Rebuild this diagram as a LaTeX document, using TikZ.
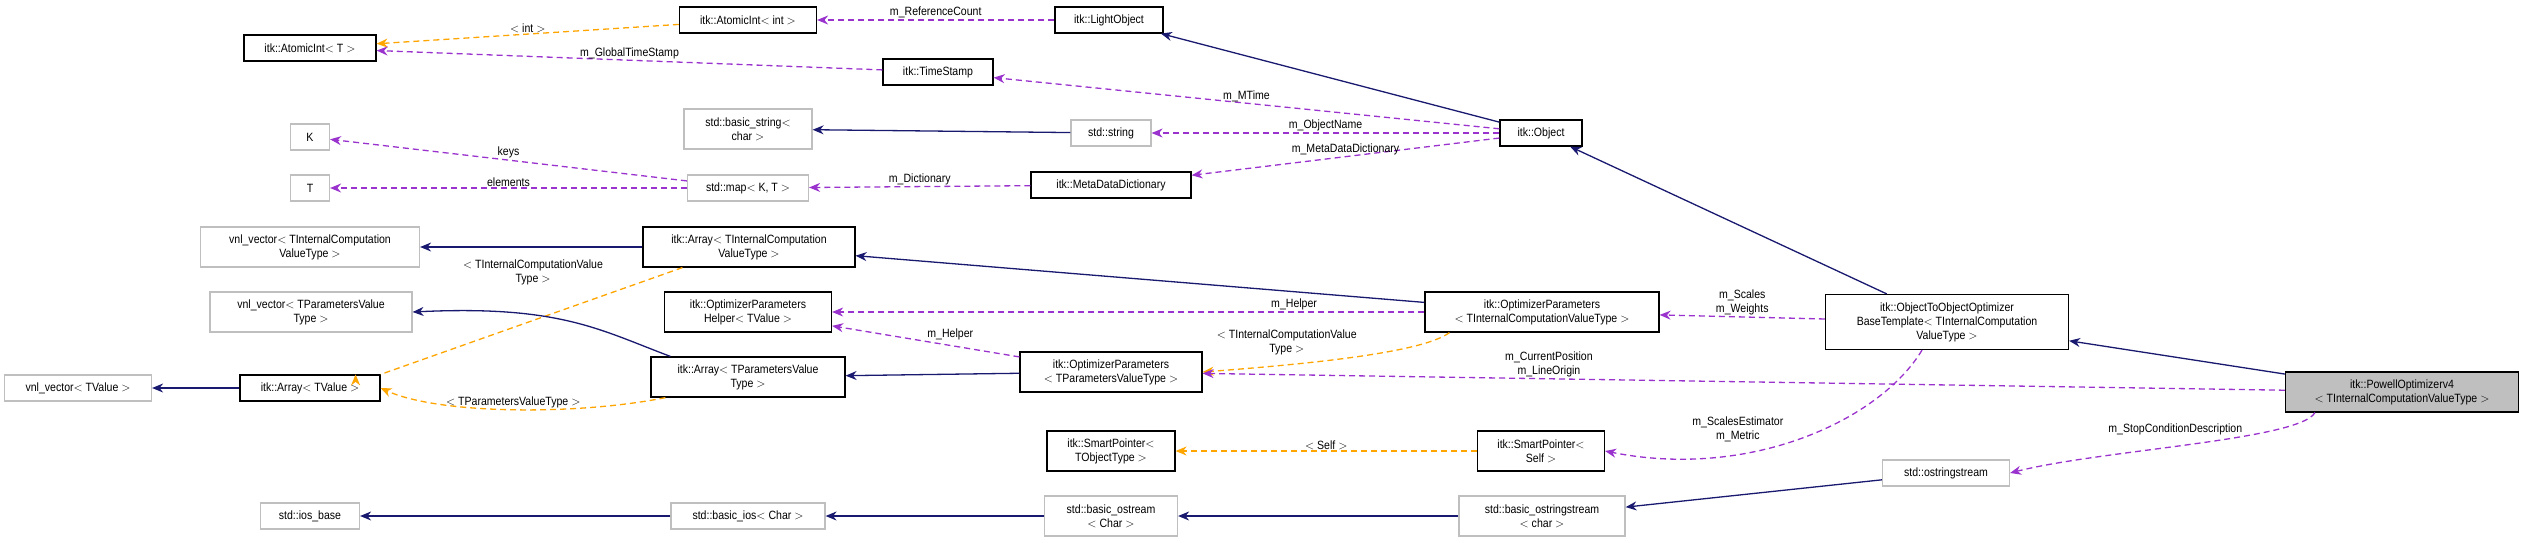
\documentclass[tikz,border=0pt]{standalone}
\usepackage{fontspec}
\setmainfont[FakeStretch=0.88]{Liberation Sans}
\usetikzlibrary{arrows.meta}
\definecolor{inhblue}{HTML}{191970}
\definecolor{usepurple}{HTML}{9A32CD}
\definecolor{tmplorange}{HTML}{FFA500}
\begin{document}
\begin{tikzpicture}[x=1pt,y=-1pt,
    font=\fontsize{12}{14}\selectfont,
    cls/.style={draw=black,line width=1.2pt,fill=white,align=center,inner sep=2pt,minimum height=26pt},
    ext/.style={draw=black!25,line width=1.2pt,fill=white,align=center,inner sep=2pt,minimum height=26pt},
    inh/.style={draw=inhblue,line width=1.3pt,-{Stealth[length=11pt,width=9pt]}},
    use/.style={draw=usepurple,line width=1.3pt,dash pattern=on 6pt off 4pt,-{Stealth[length=11pt,width=9pt]}},
    tpl/.style={draw=tmplorange,line width=1.3pt,dash pattern=on 6pt off 4pt,-{Stealth[length=11pt,width=9pt]}},
    lbl/.style={align=center,inner sep=1pt}]
    \useasboundingbox (0,0) rectangle (2525,542);

    % left column
    \node[cls,minimum width=132pt] (atomicT) at (310,48) {itk::AtomicInt$<$ T $>$};
    \node[ext,minimum width=39pt] (K) at (310,137) {K};
    \node[ext,minimum width=39pt] (T) at (310,188) {T};
    \node[ext,minimum width=219pt,minimum height=40pt] (vnlInt) at (310,247) {vnl\_vector$<$ TInternalComputation\\ValueType $>$};
    \node[ext,minimum width=202pt,minimum height=40pt] (vnlPar) at (311,312) {vnl\_vector$<$ TParametersValue\\Type $>$};
    \node[cls,minimum width=140pt] (arrT) at (310,388) {itk::Array$<$ TValue $>$};
    \node[ext,minimum width=147pt] (vnlT) at (78,388) {vnl\_vector$<$ TValue $>$};
    \node[ext,minimum width=99pt] (iosbase) at (310,516) {std::ios\_base};

    % second column
    \node[cls,minimum width=137pt] (atomicInt) at (748,20) {itk::AtomicInt$<$ int $>$};
    \node[cls,minimum width=110pt] (stamp) at (938,72) {itk::TimeStamp};
    \node[ext,minimum width=128pt,minimum height=40pt] (bstring) at (748,129) {std::basic\_string$<$\\char $>$};
    \node[ext,minimum width=121pt] (map) at (748,188) {std::map$<$ K, T $>$};
    \node[cls,minimum width=212pt,minimum height=40pt] (arrInt) at (749,247) {itk::Array$<$ TInternalComputation\\ValueType $>$};
    \node[cls,minimum width=167pt,minimum height=40pt] (helper) at (748,312) {itk::OptimizerParameters\\Helper$<$ TValue $>$};
    \node[cls,minimum width=194pt,minimum height=40pt] (arrPar) at (748,377) {itk::Array$<$ TParametersValue\\Type $>$};
    \node[ext,minimum width=154pt] (basicios) at (748,516) {std::basic\_ios$<$ Char $>$};

    % third column
    \node[cls,minimum width=108pt] (light) at (1109,20) {itk::LightObject};
    \node[ext,minimum width=80pt] (string) at (1111,133) {std::string};
    \node[cls,minimum width=160pt] (mdd) at (1111,185) {itk::MetaDataDictionary};
    \node[cls,minimum width=182pt,minimum height=40pt] (optPar) at (1111,372) {itk::OptimizerParameters\\$<$ TParametersValueType $>$};
    \node[cls,minimum width=128pt,minimum height=40pt] (spObj) at (1111,451) {itk::SmartPointer$<$\\TObjectType $>$};
    \node[ext,minimum width=133pt,minimum height=40pt] (bostream) at (1111,516) {std::basic\_ostream\\$<$ Char $>$};

    % fourth column
    \node[cls,minimum width=82pt] (object) at (1541,133) {itk::Object};
    \node[cls,minimum width=234pt,minimum height=40pt] (optInt) at (1542,312) {itk::OptimizerParameters\\$<$ TInternalComputationValueType $>$};
    \node[cls,minimum width=127pt,minimum height=40pt] (spSelf) at (1541,451) {itk::SmartPointer$<$\\Self $>$};
    \node[ext,minimum width=166pt,minimum height=40pt] (bostrstream) at (1542,516) {std::basic\_ostringstream\\$<$ char $>$};

    % right
    \node[cls,minimum width=243pt,minimum height=55pt] (o2o) at (1947,322) {itk::ObjectToObjectOptimizer\\BaseTemplate$<$ TInternalComputation\\ValueType $>$};
    \node[ext,minimum width=127pt] (ostrstream) at (1946,473) {std::ostringstream};
    \node[cls,fill=black!25,minimum width=233pt,minimum height=40pt] (powell) at (2402,392) {itk::PowellOptimizerv4\\$<$ TInternalComputationValueType $>$};

    \draw[tpl] (atomicInt) -- (atomicT) node[lbl,pos=0.5,above] {$<$ int $>$};
    \draw[use] (stamp) -- (atomicT) node[lbl,pos=0.5,above] {m\_GlobalTimeStamp};
    \draw[use] (light) -- (atomicInt) node[lbl,pos=0.5,above] {m\_ReferenceCount};
    \draw[inh] (object) -- (light);
    \draw[use] (object) -- (stamp) node[lbl,pos=0.5,above] {m\_MTime};
    \draw[inh] (string) -- (bstring);
    \draw[use] (object) -- (string) node[lbl,pos=0.5,above] {m\_ObjectName};
    \draw[use] (object) -- (mdd) node[lbl,pos=0.5,above] {m\_MetaDataDictionary};
    \draw[use] (map) -- (K) node[lbl,pos=0.5,above] {keys};
    \draw[use] (map) -- (T) node[lbl,pos=0.5,above] {elements};
    \draw[use] (mdd) -- (map) node[lbl,pos=0.5,above] {m\_Dictionary};

    \draw[inh] (arrInt) -- (vnlInt);
    \draw[tpl] (arrInt.south west) ++(40,0) coordinate (a1) (a1) -- (arrT.north east) ++(-25,0);
    \node[lbl] (tlbl1) at (533,272) {$<$ TInternalComputationValue\\Type $>$};
    \draw[inh] (optInt) -- (arrInt);
    \draw[use] (optInt) -- (helper) node[lbl,pos=0.22,above] {m\_Helper};
    \draw[use] (optPar) -- (helper) node[lbl,pos=0.5,above right] {m\_Helper};
    \draw[inh] (arrPar.north west) ++(20,0) coordinate (a2) (a2) .. controls (600,330) and (560,305) .. (vnlPar.east);
    \draw[tpl] (arrPar.south west) ++(15,0) coordinate (a3) (a3) .. controls (580,415) and (440,415) .. (arrT.east) node[lbl,pos=0.5,above] {$<$ TParametersValueType $>$};
    \draw[inh] (arrT) -- (vnlT);
    \draw[inh] (optPar) -- (arrPar);
    \draw[tpl] (optInt.south west) ++(25,0) coordinate (a4) (a4) .. controls (1420,355) and (1280,366) .. (optPar.east) node[lbl,pos=0.45,above left] {$<$ TInternalComputationValue\\Type $>$};

    \draw[inh] (o2o) -- (object);
    \draw[use] (o2o) -- (optInt) node[lbl,pos=0.5,above] {m\_Scales\\m\_Weights};
    \draw[inh] (powell) -- (o2o);
    \draw[use] (powell) -- (optPar) node[lbl,pos=0.68,above] {m\_CurrentPosition\\m\_LineOrigin};
    \draw[use] (powell.south west) ++(30,0) coordinate (a5) (a5) .. controls (2300,440) and (2100,450) .. (ostrstream.east) node[lbl,pos=0.35,above left] {m\_StopConditionDescription};
    \draw[use] (o2o.south) ++(-25,0) coordinate (a6) (a6) .. controls (1880,420) and (1750,480) .. (spSelf.east) node[lbl,pos=0.55,above left] {m\_ScalesEstimator\\m\_Metric};
    \draw[tpl] (spSelf) -- (spObj) node[lbl,pos=0.5,above] {$<$ Self $>$};
    \draw[inh] (ostrstream) -- (bostrstream);
    \draw[inh] (bostrstream) -- (bostream);
    \draw[inh] (bostream) -- (basicios);
    \draw[inh] (basicios) -- (iosbase);
\end{tikzpicture}
\end{document}
